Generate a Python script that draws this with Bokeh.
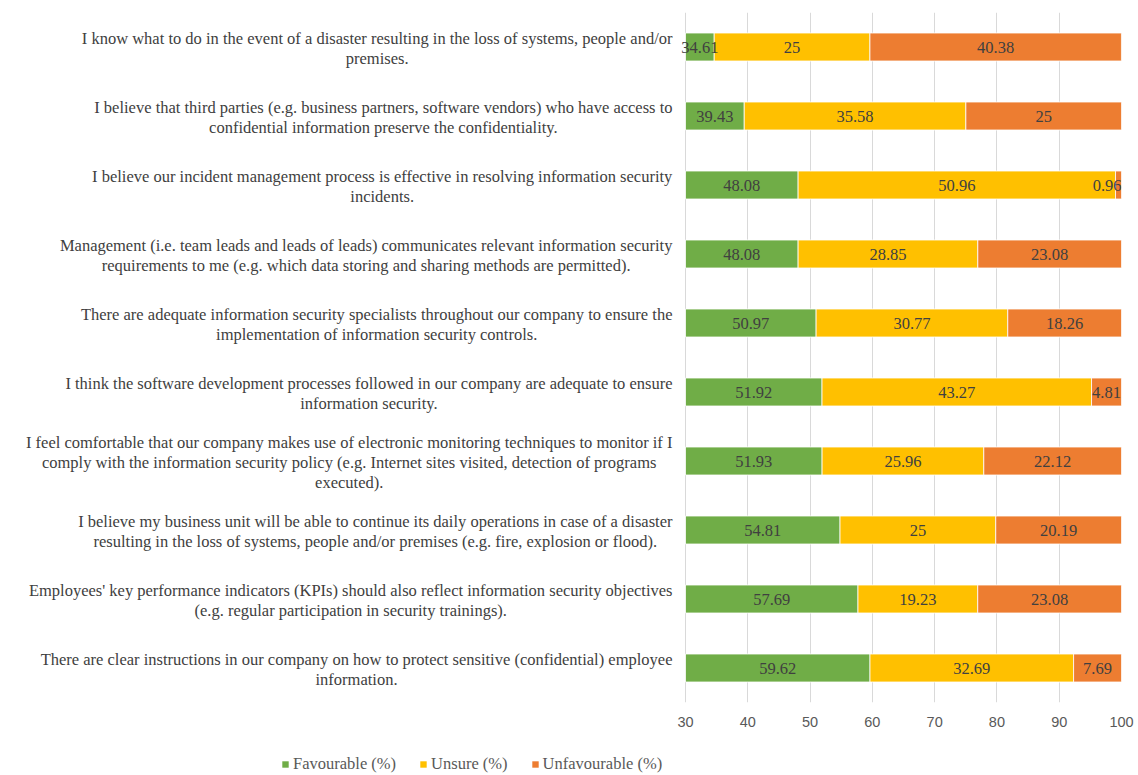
from bokeh.plotting import figure
from bokeh.layouts import column
from bokeh.models import ColumnDataSource, Range1d, Label, LabelSet, Legend, LegendItem, FixedTicker
from bokeh.embed import file_html
from bokeh.resources import INLINE

questions = [
    "I know what to do in the event of a disaster resulting in the loss of systems, people and/or\npremises.",
    "I believe that third parties (e.g. business partners, software vendors) who have access to\nconfidential information preserve the confidentiality.",
    "I believe our incident management process is effective in resolving information security\nincidents.",
    "Management (i.e. team leads and leads of leads) communicates relevant information security\nrequirements to me (e.g. which data storing and sharing methods are permitted).",
    "There are adequate information security specialists throughout our company to ensure the\nimplementation of information security controls.",
    "I think the software development processes followed in our company are adequate to ensure\ninformation security.",
    "I feel comfortable that our company makes use of electronic monitoring techniques to monitor if I\ncomply with the information security policy (e.g. Internet sites visited, detection of programs\nexecuted).",
    "I believe my business unit will be able to continue its daily operations in case of a disaster\nresulting in the loss of systems, people and/or premises (e.g. fire, explosion or flood).",
    "Employees' key performance indicators (KPIs) should also reflect information security objectives\n(e.g. regular participation in security trainings).",
    "There are clear instructions in our company on how to protect sensitive (confidential) employee\ninformation.",
]
favourable = [34.61, 39.43, 48.08, 48.08, 50.97, 51.92, 51.93, 54.81, 57.69, 59.62]
unsure = [25, 35.58, 50.96, 28.85, 30.77, 43.27, 25.96, 25, 19.23, 32.69]
unfavourable = [40.38, 25, 0.96, 23.08, 18.26, 4.81, 22.12, 20.19, 23.08, 7.69]
series_names = ["Favourable (%)", "Unsure (%)", "Unfavourable (%)"]
series_colors = ["#70AD47", "#FFC000", "#ED7D31"]
x_ticks = [30, 40, 50, 60, 70, 80, 90, 100]

X0, X1 = 30, 100
W, H1, H2 = 1138, 745, 30
AX_L, AX_R, FT, FB = 685, 1121, 12, 702   # pixel positions of the value axis 30..100
FRAME_L = 0
ppu = (AX_R - AX_L) / (X1 - X0)
x_start = X0 - (AX_L - FRAME_L) / ppu

# Times-like glyph widths (per 1000 em) to estimate line widths for centring
TW = dict(zip("abcdefghijklmnopqrstuvwxyz",
              [444, 500, 444, 500, 444, 333, 500, 500, 278, 278, 500, 278, 778,
               500, 500, 500, 500, 333, 389, 278, 500, 500, 722, 500, 500, 444]))
TW.update(dict(zip("ABCDEFGHIJKLMNOPQRSTUVWXYZ",
                   [722, 667, 667, 722, 611, 556, 722, 722, 333, 389, 722, 611, 889,
                    722, 722, 556, 722, 667, 556, 611, 722, 722, 944, 722, 722, 611])))
TW.update({" ": 250, ".": 250, ",": 250, "(": 333, ")": 333, "/": 278, "'": 180, "-": 333})
FS = 16.5


def text_w(s):
    return sum(TW.get(c, 500) for c in s) * FS / 1000.0


n = len(questions)
ys = [i + 0.5 for i in range(n)]
s1 = [f + u for f, u in zip(favourable, unsure)]
s2 = [a + b for a, b in zip(s1, unfavourable)]
fmt = lambda v: f"{v:g}"


def fit(c, t):
    half = text_w(t) / 2 / ppu
    return min(c, X1 - half)


t0 = [fmt(v) for v in favourable]
t1 = [fmt(v) for v in unsure]
t2 = [fmt(v) for v in unfavourable]
src = ColumnDataSource(dict(
    y=ys,
    l0=[X0] * n, r0=favourable,
    l1=favourable, r1=s1,
    l2=s1, r2=s2,
    c0=[(X0 + f) / 2 for f in favourable],
    c1=[(a + b) / 2 for a, b in zip(favourable, s1)],
    c2=[fit((a + b) / 2, t) for a, b, t in zip(s1, s2, t2)],
    t0=t0, t1=t1, t2=t2,
))

p = figure(width=W, height=H1, x_range=Range1d(x_start, X1), y_range=Range1d(n, 0),
           output_backend="svg", toolbar_location=None,
           min_border_left=FRAME_L, min_border_right=W - AX_R,
           min_border_top=FT, min_border_bottom=H1 - FB)
p.outline_line_color = None
p.background_fill_color = "white"
p.border_fill_color = "white"
p.ygrid.visible = False
p.yaxis.visible = False
p.xgrid.ticker = FixedTicker(ticks=x_ticks)
p.xgrid.grid_line_color = "#D9D9D9"
p.xgrid.grid_line_width = 1
p.xaxis.ticker = FixedTicker(ticks=x_ticks)
p.xaxis.axis_line_color = None
p.xaxis.major_tick_line_color = None
p.xaxis.minor_tick_line_color = None
p.xaxis.major_label_text_font = "Liberation Sans"
p.xaxis.major_label_text_font_size = "14.5px"
p.xaxis.major_label_text_color = "#595959"
p.xaxis.major_label_standoff = 8

bar_h = 28 / 69
for k in range(3):
    p.hbar(y="y", left=f"l{k}", right=f"r{k}", height=bar_h, source=src,
           fill_color=series_colors[k], line_color="white", line_width=0.8)
    ls = LabelSet(x=f"c{k}", y="y", text=f"t{k}", source=src,
                  text_align="center", text_baseline="middle",
                  text_font="Liberation Serif", text_font_size="16.5px",
                  text_color="#404040")
    p.add_layout(ls)

# category labels, left of the value axis
right_edge = 672
for i, q in enumerate(questions):
    lines = q.split("\n")
    wmax = max(text_w(s) for s in lines)
    cx = right_edge - wmax / 2
    xd = X0 + (cx - AX_L) / ppu
    m = len(lines)
    for j, s in enumerate(lines):
        p.add_layout(Label(x=xd, y=ys[i], text=s, text_align="center",
                           text_baseline="middle", y_offset=((m - 1) / 2 - j) * 20 - 1,
                           text_font="Liberation Serif", text_font_size="16.5px",
                           text_color="#404040"))

# legend strip below the chart (proxy glyphs lie outside its visible range)
lp = figure(width=W, height=H2, x_range=Range1d(0, W), y_range=Range1d(0, H2),
            output_backend="svg", toolbar_location=None,
            min_border_left=0, min_border_right=0, min_border_top=0, min_border_bottom=0)
lp.outline_line_color = None
lp.axis.visible = False
lp.grid.visible = False
proxies = []
for k in range(3):
    proxies.append(lp.hbar(y=[-100], left=[-100], right=[-90], height=1,
                           fill_color=series_colors[k], line_color=None))
legend = Legend(items=[LegendItem(label=series_names[k], renderers=[proxies[k]]) for k in range(3)],
                orientation="horizontal", location=(281, 1),
                glyph_width=8, glyph_height=8, label_standoff=4, spacing=23,
                padding=0, margin=0, border_line_color=None, background_fill_alpha=0,
                label_text_font="Liberation Serif", label_text_font_size="16.5px",
                label_text_color="#595959", label_height=16)
lp.add_layout(legend, "center")

open("out.html", "w").write(file_html(column(p, lp, spacing=0), INLINE))
